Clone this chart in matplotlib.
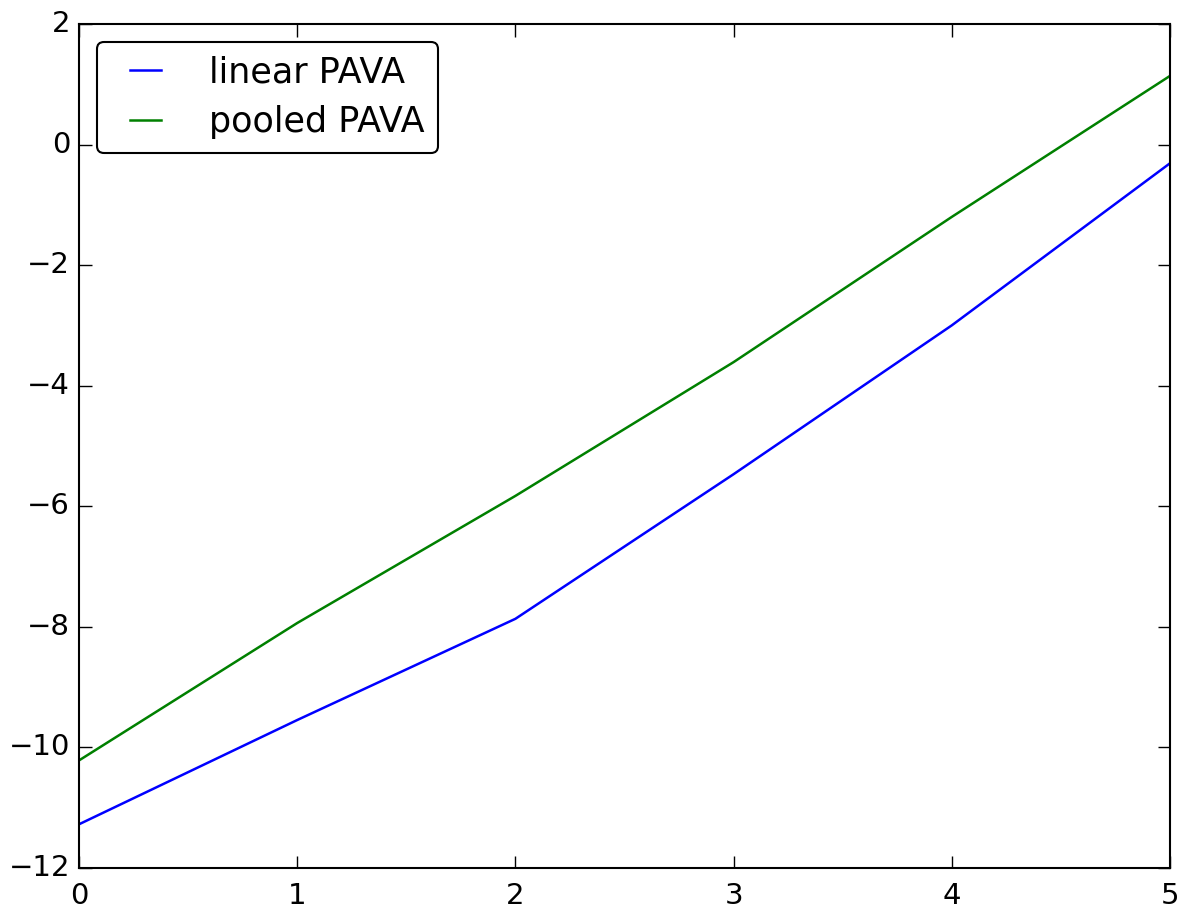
import matplotlib
matplotlib.use("Agg")
import matplotlib.pyplot as plt
from matplotlib.lines import Line2D
from matplotlib.legend_handler import HandlerLine2D

plt.style.use("classic")

x = [0, 1, 2, 3, 4, 5]
linear_pava = [-11.28, -9.55, -7.87, -5.47, -3.00, -0.31]
pooled_pava = [-10.22, -7.94, -5.83, -3.61, -1.20, 1.14]

fig = plt.figure(figsize=(11.89, 9.09), dpi=100)
ax = fig.add_axes([0.0665, 0.0455, 0.9175, 0.928])

ax.plot(x, linear_pava, color="blue", linewidth=1.8, label="linear PAVA")
ax.plot(x, pooled_pava, color="green", linewidth=1.8, label="pooled PAVA")

ax.set_xlim(0, 5)
ax.set_ylim(-12, 2)
ax.tick_params(labelsize=21, length=9, width=1)
ax.tick_params(axis="y", pad=6.5)
ax.tick_params(axis="x", pad=10.5)
for s in ax.spines.values():
    s.set_linewidth(1.5)

leg = ax.legend(loc="upper left", fontsize=25.2, fancybox=True,
                handlelength=1.75, handletextpad=1.05, borderpad=0.4,
                labelspacing=0.45, borderaxespad=0.5,
                handler_map={Line2D: HandlerLine2D(xpad=0.25)})
leg.get_frame().set_linewidth(1.5)

fig.savefig("out.png", dpi=100)
